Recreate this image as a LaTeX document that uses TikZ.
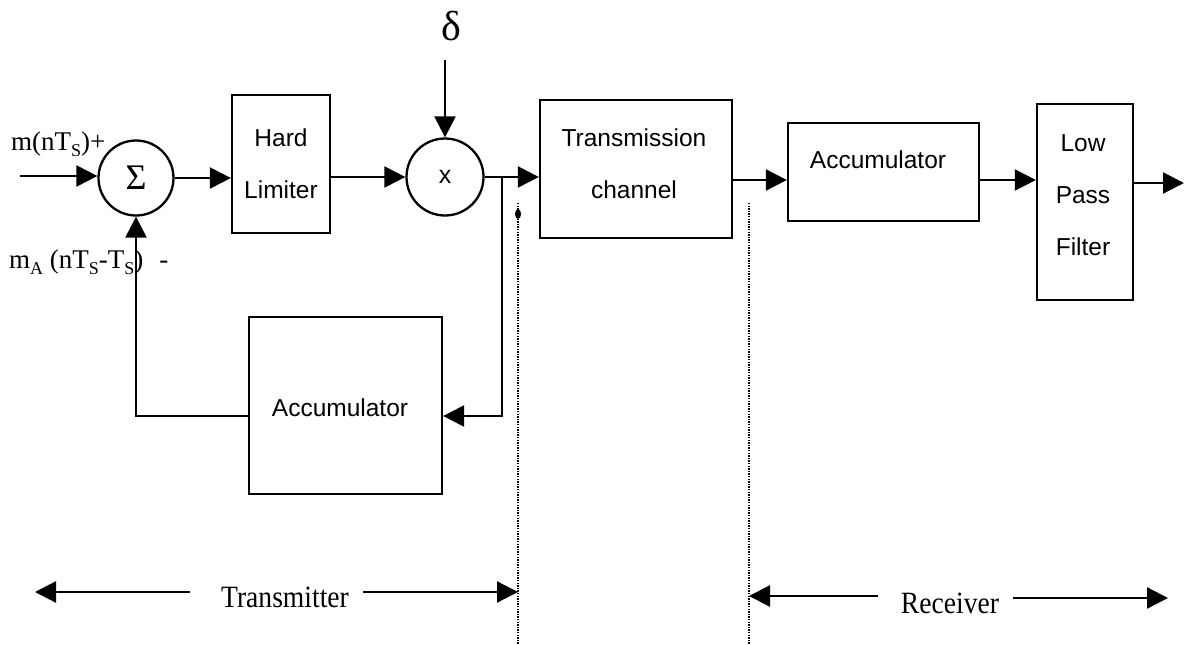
\documentclass[tikz,border=0pt]{standalone}
\usepackage{fontspec}
\setmainfont{Liberation Serif}
\setsansfont{Liberation Sans}
\usetikzlibrary{arrows.meta}
\newcommand{\lowsub}[1]{\raisebox{-6pt}{\fontsize{18}{18}\selectfont #1}}
\newcommand{\narrow}[1]{\scalebox{0.89}[1]{#1}}
\begin{document}
\begin{tikzpicture}[x=1pt,y=-1pt,line width=2.3pt,
  arr/.style={-{Triangle[length=21pt,width=21pt]}},
  blk/.style={draw,rectangle,inner sep=0pt},
  boxtext/.style={font=\sffamily\fontsize{24.5}{52}\selectfont,align=center,inner sep=0pt},
  junc/.style={draw,circle,inner sep=0pt,minimum size=75pt},
  lbl/.style={font=\fontsize{27}{30}\selectfont,inner sep=0pt},
  sectcap/.style={font=\fontsize{31}{34}\selectfont,inner sep=0pt},
  sep/.style={line width=1.2pt,dash pattern=on 1.4pt off 1.2pt}]
\useasboundingbox (0,0) rectangle (1184,645);

% forward path of the delta modulator
\node[junc,font=\fontsize{36}{36}\selectfont] (sum) at (136,178) {Σ};
\node[blk,boxtext,minimum width=98pt,minimum height=138pt] (hl) at (281,164) {Hard\\Limiter};
\node[junc,minimum size=77pt,font=\sffamily\fontsize{25}{28}\selectfont] (mult) at (445,177) {x};
\node[font=\fontsize{42}{44}\selectfont,inner sep=0pt] (delta) at (451,26) {δ};
\node[blk,minimum width=192pt,minimum height=138pt] (tc) at (636,169) {};
\node[boxtext] (tctext) at (634,164) {Transmission\\channel};
\node[blk,minimum width=191pt,minimum height=98pt] (acc1) at (883.5,172) {};
\node[boxtext] (acc1text) at (878,160) {Accumulator};
\node[blk,minimum width=96pt,minimum height=196pt] (lpf) at (1085,202) {};
\node[boxtext] (lpftext) at (1083,195) {Low\\Pass\\Filter};

% feedback accumulator
\node[blk,minimum width=193pt,minimum height=177pt] (acc2) at (345.5,405.5) {};
\node[boxtext] (acc2text) at (340,408) {Accumulator};

% signal labels
\node[lbl,anchor=base west] (lin) at (10,150) {m(nT\lowsub{S})+};
\node[lbl,anchor=base west] (lfb) at (8,268) {m\lowsub{A} (nT\lowsub{S}-T\lowsub{S})\hspace{16pt}-};

% reference points
\coordinate (in) at (20,176);
\coordinate (d0) at (445,60);
\coordinate (br) at (502,177);
\coordinate (fb) at (502,416);
\coordinate (rx) at (0,180);
\coordinate (ry) at (0,183);
\coordinate (out) at (1184,183);

% connectors
\draw[arr] (in) -- (in -| sum.west);
\draw[arr] (sum.east) -- (sum.east -| hl.west);
\draw[arr] (hl.east |- mult.west) -- (mult.west);
\draw[arr] (d0) -- (mult.north);
\draw[arr] (mult.east) -- (mult.east -| tc.west);
\draw[arr] (br) -- (fb) -- (fb -| acc2.east);
\draw[arr] (fb -| acc2.west) -| (sum.south);
\draw[arr] (tc.east |- rx) -- (acc1.west |- rx);
\draw[arr] (acc1.east |- rx) -- (lpf.west |- rx);
\draw[arr] (lpf.east |- ry) -- (out);

% transmitter / receiver boundaries
\coordinate (s1) at (518,203);
\coordinate (s1b) at (518,645);
\coordinate (s2) at (749,203);
\coordinate (s2b) at (749,645);
\draw[sep] (s1) -- (s1b);
\draw[sep] (s2) -- (s2b);
\fill (518,214) ellipse (3pt and 5pt);

% section captions
\node[sectcap,anchor=base] (tx) at (285,607) {\narrow{Transmitter}};
\node[sectcap,anchor=base] (rv) at (950,613) {\narrow{Receiver}};
\coordinate (txl) at (35,592);
\coordinate (txa) at (190,592);
\coordinate (txb) at (363,592);
\coordinate (rva) at (878,596);
\coordinate (rvb) at (1013,598);
\coordinate (rvr) at (1168,598);
\draw[arr] (txa) -- (txl);
\draw[arr] (txb) -- (txb -| s1);
\draw[arr] (rva) -- (rva -| s2);
\draw[arr] (rvb) -- (rvr);
\end{tikzpicture}
\end{document}
